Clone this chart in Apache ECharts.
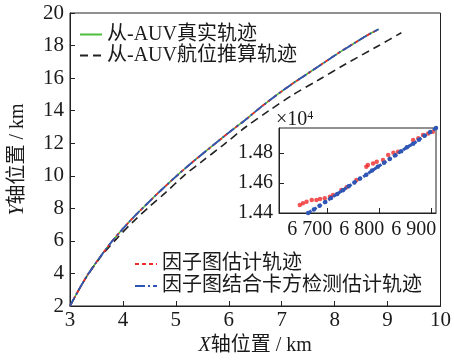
<!DOCTYPE html>
<html><head><meta charset="utf-8">
<script src="https://cdn.jsdelivr.net/npm/echarts@6/dist/echarts.min.js"></script>
<style>html,body{margin:0;padding:0;background:#fff}#c{width:454px;height:361px}</style>
</head><body><div id="c"></div>
<script>
// main trajectories (km)
const trueX = [3.0,3.15,3.33,3.6,3.8,4.0,4.2,4.4,4.7,5.0,5.3,5.6,6.0,6.3,6.6,6.9,7.2,7.5,7.8,8.1,8.4,8.6,8.83];
const trueY = [2.0,2.9,3.9,5.15,6.0,6.75,7.45,8.1,9.05,9.95,10.8,11.6,12.65,13.4,14.2,14.95,15.65,16.3,16.95,17.6,18.2,18.6,19.0];
const fgX = trueX;
const fgY = trueY;
const chiX = trueX;
const chiY = trueY;
const drX = [3.0,3.15,3.33,3.6,3.9,4.2,4.5,4.8,5.15,5.5,5.9,6.3,6.76,7.2,7.685,8.2,8.83,9.26];
const drY = [2.0,2.9,3.87,5.1,6.2,7.2,8.1,8.95,10.0,10.9,11.9,12.95,14.0,14.95,15.87,16.85,17.99,18.79];
// inset (x in m, y in 1e4 m)
const insRedX = [6648,6654,6661,6671,6680,6687,6696,6706,6712,6728,6738,6757,6776,6779,6789,6796,6808,6818,6828,6837,6866,6876,6885,6895,6904];
const insRedY = [1.4453,1.4465,1.4475,1.4487,1.4487,1.4493,1.4498,1.4509,1.452,1.4553,1.4571,1.462,1.4709,1.472,1.4731,1.4742,1.4753,1.4787,1.4802,1.4809,1.4887,1.4898,1.492,1.4931,1.4942];
const insBlueX = [6664,6675,6686,6697,6708,6720,6731,6742,6753,6764,6776,6787,6798,6810,6821,6832,6843,6854,6866,6877,6888,6899,6910];
const insBlueY = [1.44,1.4424,1.4448,1.4474,1.45,1.4527,1.4552,1.4578,1.4603,1.463,1.4655,1.4683,1.4708,1.4735,1.476,1.4786,1.4812,1.4838,1.4862,1.4888,1.4915,1.494,1.4967];
const insXTicks = [6700,6800,6900];
const insXLabels = ['6 700','6 800','6 900'];
const insYTicks = [1.44,1.46,1.48];
const names = ['从-AUV真实轨迹','从-AUV航位推算轨迹','因子图估计轨迹','因子图结合卡方检测估计轨迹'];

const zip = (a,b)=>a.map((v,i)=>[v,b[i]]);
const FONT = '"Liberation Serif","Noto Sans CJK SC",serif';
const TXT = '#1a1a1a';
const axisCommon = {
  axisLine:{show:true,lineStyle:{color:'#222',width:1}},
  axisTick:{show:true,inside:true,length:5,lineStyle:{color:'#222'}},
  splitLine:{show:false},
};
const legendCommon = {orient:'vertical',itemWidth:22,itemHeight:10,itemGap:0,padding:0,
  itemStyle:{opacity:0},
  textStyle:{fontFamily:FONT,fontSize:20,color:TXT}};
const chart = echarts.init(document.getElementById('c'));
chart.setOption({
  animation:false,
  backgroundColor:'#fff',
  grid:[
    {left:67,top:13,right:9,bottom:55,show:true,borderColor:'#222',borderWidth:1,backgroundColor:'transparent'},
    {left:279,top:128,width:157,height:85,show:true,borderColor:'#222',borderWidth:1,backgroundColor:'#fff',z:5}
  ],
  xAxis:[
    Object.assign({type:'value',gridIndex:0,min:3,max:10,interval:1,
      name:'{i|X}轴位置 / km',nameLocation:'middle',nameGap:30,
      nameTextStyle:{fontFamily:FONT,fontSize:20,color:TXT,rich:{i:{fontStyle:'italic',fontFamily:FONT,fontSize:20,color:TXT}}},
      axisLabel:{fontFamily:FONT,fontSize:21,color:TXT,margin:4}},axisCommon),
    Object.assign({type:'value',gridIndex:1,min:6608,max:6910,
      axisLabel:{fontFamily:FONT,fontSize:20,color:TXT,margin:7,customValues:insXTicks,
        formatter:v=>insXLabels[insXTicks.indexOf(v)]||'',padding:[0,34,0,0]}},axisCommon,
      {axisTick:{show:true,inside:true,length:5,customValues:insXTicks,lineStyle:{color:'#222'}},z:6})
  ],
  yAxis:[
    Object.assign({type:'value',gridIndex:0,min:2,max:20,interval:2,
      name:'{i|Y}轴位置 / km',nameLocation:'middle',nameGap:42,nameRotate:90,
      nameTextStyle:{fontFamily:FONT,fontSize:20,color:TXT,rich:{i:{fontStyle:'italic',fontFamily:FONT,fontSize:20,color:TXT}}},
      axisLabel:{fontFamily:FONT,fontSize:21,color:TXT,margin:6}},axisCommon),
    Object.assign({type:'value',gridIndex:1,min:1.44,max:1.4967,
      axisLabel:{fontFamily:FONT,fontSize:20,color:TXT,margin:6,customValues:insYTicks,formatter:v=>v.toFixed(2)}},axisCommon,
      {axisTick:{show:true,inside:true,length:5,customValues:insYTicks,lineStyle:{color:'#222'}},z:6})
  ],
  legend:[
    Object.assign({data:[names[0],names[1]],left:79,top:24},legendCommon,
      {textStyle:Object.assign({},legendCommon.textStyle,{lineHeight:21})}),
    Object.assign({data:[names[2],names[3]],left:134,top:253},legendCommon,
      {textStyle:Object.assign({},legendCommon.textStyle,{lineHeight:22})})
  ],
  graphic:[{type:'text',left:276,top:110,z:10,style:{text:'×10{s|4}',fontFamily:FONT,fontSize:20,fill:TXT,
    rich:{s:{fontFamily:FONT,fontSize:12,verticalAlign:'top',fill:TXT,padding:[0,0,8,0]}}}}],
  series:[
    {name:names[0],type:'line',xAxisIndex:0,yAxisIndex:0,data:zip(trueX,trueY),smooth:0.3,symbol:'none',
     lineStyle:{color:'#4cbf3a',width:1.6},itemStyle:{color:'#4cbf3a'}},
    {name:names[1],type:'line',xAxisIndex:0,yAxisIndex:0,data:zip(drX,drY),smooth:0.3,symbol:'none',
     lineStyle:{color:'#222',width:1.6,type:[8,5]},itemStyle:{color:'#222'}},
    {name:names[2],type:'line',xAxisIndex:0,yAxisIndex:0,data:zip(fgX,fgY),smooth:0.3,symbol:'none',
     lineStyle:{color:'#ee2b2b',width:1.8,type:[4,3]},itemStyle:{color:'#ee2b2b'}},
    {name:names[3],type:'line',xAxisIndex:0,yAxisIndex:0,data:zip(chiX,chiY),smooth:0.3,symbol:'none',
     lineStyle:{color:'#2f55b5',width:1.8,type:[10,3,2,3]},itemStyle:{color:'#2f55b5'}},
    {name:'insetRed',type:'scatter',xAxisIndex:1,yAxisIndex:1,data:zip(insRedX,insRedY),symbolSize:4.5,
     itemStyle:{color:'#f02a2a'},z:7},
    {name:'insetBlue',type:'line',xAxisIndex:1,yAxisIndex:1,data:zip(insBlueX,insBlueY),symbol:'circle',symbolSize:4.5,
     showSymbol:true,lineStyle:{color:'#2f55b5',width:3,type:[4,2]},itemStyle:{color:'#2f55b5'},z:8}
  ]
});
</script></body></html>
